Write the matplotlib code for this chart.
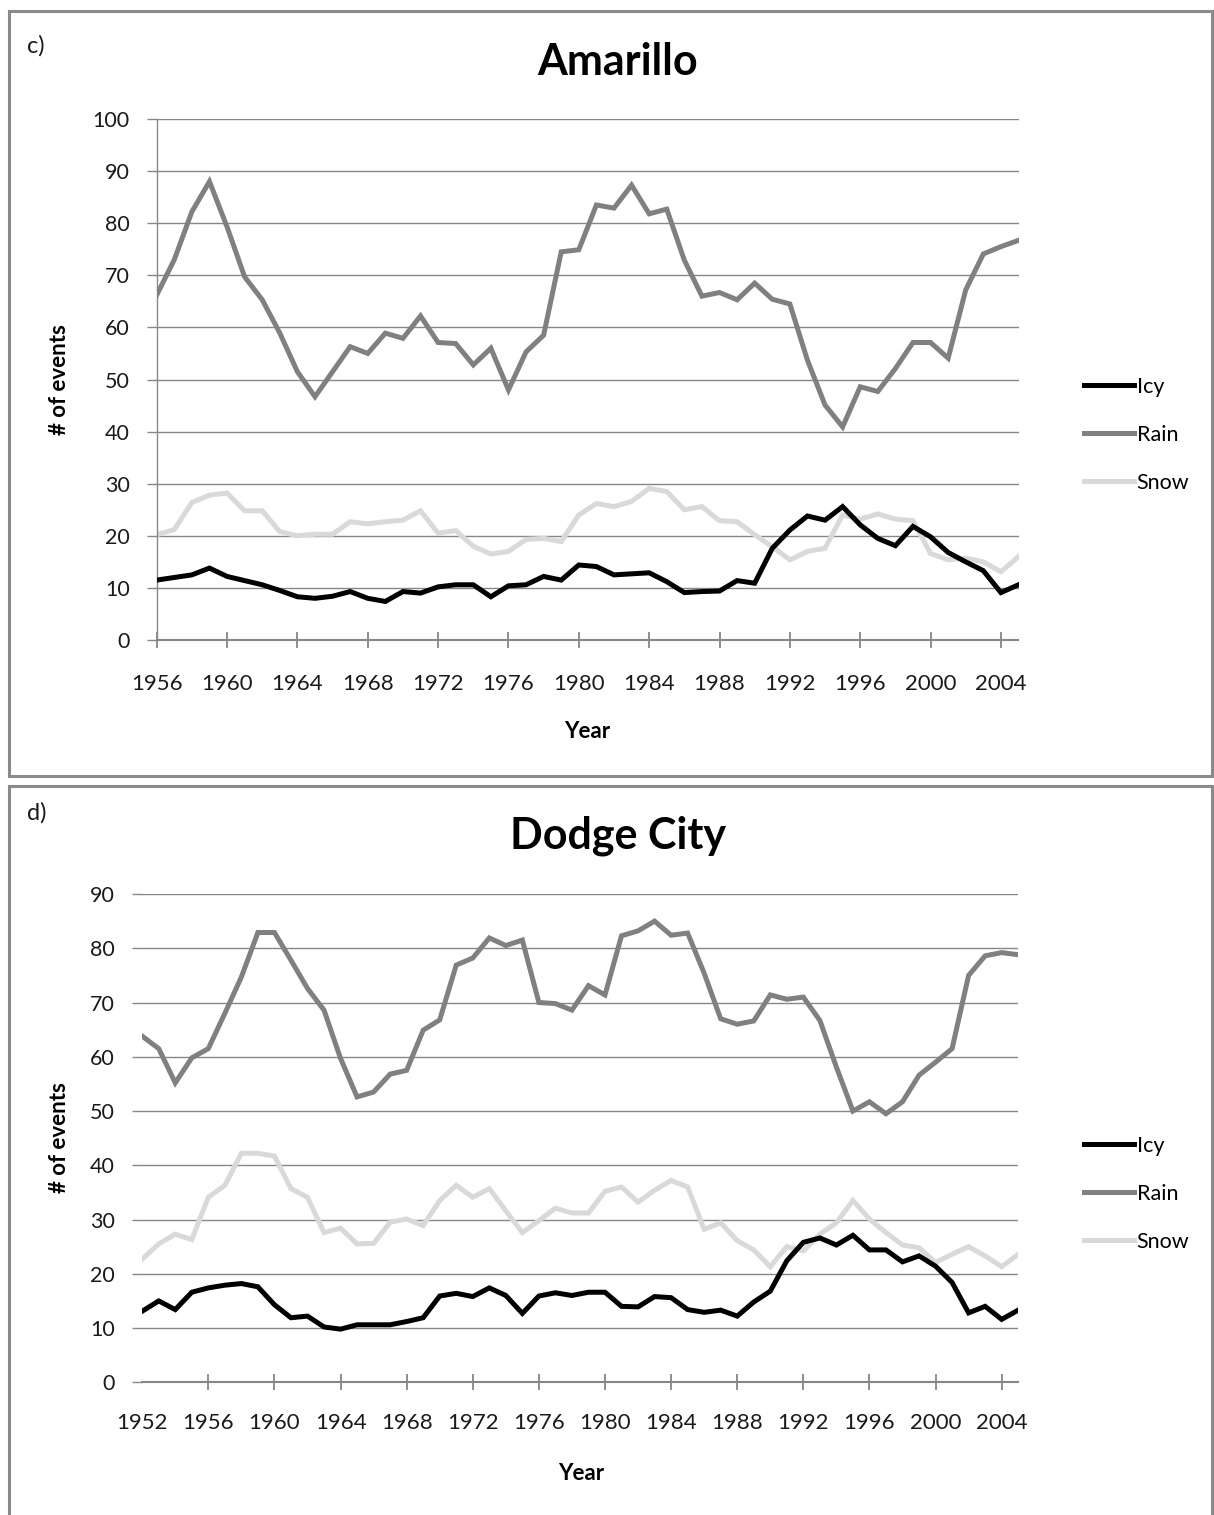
import matplotlib
matplotlib.use("Agg")
import matplotlib.pyplot as plt
from matplotlib.patches import Rectangle
from matplotlib.lines import Line2D

# ---------------- data ----------------
ama_years = list(range(1956, 2006))
ama_icy = [11.5, 12.0, 12.5, 13.8, 12.2, 11.4, 10.6, 9.5, 8.3, 8.0,
           8.4, 9.3, 8.0, 7.4, 9.3, 9.0, 10.2, 10.6, 10.6, 8.3,
           10.4, 10.6, 12.2, 11.5, 14.4, 14.1, 12.5, 12.7, 12.9, 11.2,
           9.1, 9.3, 9.4, 11.4, 10.9, 17.6, 21.1, 23.8, 23.0, 25.6,
           22.1, 19.5, 18.1, 21.8, 19.8, 16.8, 15.0, 13.3, 9.1, 10.6]
ama_rain = [66.2, 73.0, 82.2, 88.0, 79.3, 69.7, 65.3, 58.9, 51.5, 46.7,
            51.5, 56.3, 55.0, 58.9, 57.9, 62.2, 57.1, 56.9, 52.8, 56.0,
            48.0, 55.3, 58.5, 74.5, 74.9, 83.5, 82.9, 87.3, 81.8, 82.7,
            72.9, 66.0, 66.7, 65.3, 68.5, 65.4, 64.5, 53.7, 45.1, 40.9,
            48.6, 47.7, 52.1, 57.1, 57.1, 54.1, 67.2, 74.1, 75.5, 76.7]
ama_snow = [20.2, 21.2, 26.4, 27.8, 28.2, 24.8, 24.8, 20.8, 20.0, 20.3,
            20.3, 22.7, 22.3, 22.7, 23.0, 24.8, 20.5, 21.0, 18.0, 16.5,
            17.0, 19.3, 19.5, 18.9, 24.0, 26.2, 25.6, 26.6, 29.1, 28.5,
            25.0, 25.6, 22.9, 22.7, 20.2, 17.9, 15.4, 17.0, 17.6, 24.0,
            23.2, 24.2, 23.2, 22.9, 16.6, 15.4, 15.7, 15.0, 13.1, 16.0]

ddc_years = list(range(1952, 2006))
ddc_icy = [13.1, 15.0, 13.4, 16.6, 17.4, 17.9, 18.2, 17.6, 14.3, 11.9,
           12.2, 10.2, 9.8, 10.6, 10.6, 10.6, 11.2, 11.9, 15.9, 16.4,
           15.8, 17.4, 16.0, 12.7, 15.9, 16.5, 16.0, 16.6, 16.6, 14.0,
           13.9, 15.8, 15.6, 13.4, 12.9, 13.3, 12.2, 14.8, 16.8, 22.4,
           25.8, 26.6, 25.3, 27.1, 24.4, 24.4, 22.2, 23.3, 21.4, 18.4,
           12.8, 14.0, 11.6, 13.3]
ddc_rain = [63.8, 61.5, 55.2, 59.8, 61.5, 68.0, 74.7, 82.9, 82.9, 77.8,
            72.6, 68.6, 59.7, 52.6, 53.5, 56.8, 57.5, 64.9, 66.8, 76.9,
            78.2, 81.9, 80.5, 81.5, 70.0, 69.8, 68.6, 73.1, 71.4, 82.3,
            83.2, 85.0, 82.4, 82.8, 75.4, 67.0, 66.0, 66.6, 71.4, 70.6,
            71.0, 66.7, 58.1, 50.0, 51.7, 49.5, 51.7, 56.6, 59.0, 61.5,
            75.0, 78.6, 79.2, 78.8]
ddc_snow = [22.7, 25.5, 27.3, 26.3, 34.1, 36.3, 42.2, 42.2, 41.7, 35.7,
            34.1, 27.6, 28.4, 25.5, 25.6, 29.5, 30.1, 28.9, 33.5, 36.3,
            34.1, 35.7, 31.6, 27.6, 29.8, 32.1, 31.2, 31.2, 35.2, 36.0,
            33.2, 35.4, 37.2, 36.0, 28.2, 29.4, 26.1, 24.4, 21.3, 25.0,
            24.2, 27.3, 29.4, 33.5, 30.1, 27.6, 25.3, 24.8, 22.1, 23.6,
            25.0, 23.3, 21.3, 23.6]

series_names = ["Icy", "Rain", "Snow"]
series_colors = ["#000000", "#808080", "#D9D9D9"]

# ---------------- layout ----------------
W, H = 1214, 1515
FONT = ["Lato", "DejaVu Sans"]
plt.rcParams["font.family"] = FONT
fig = plt.figure(figsize=(W / 100, H / 100), dpi=100)
fig.patch.set_facecolor("white")


def fx(px):
    return px / W


def fy(py):
    return 1 - py / H


def frame(x0, y0, x1, y1):
    fig.patches.append(Rectangle((fx(x0), fy(y1)), fx(x1) - fx(x0), fy(y0) - fy(y1),
                                 transform=fig.transFigure, fill=False,
                                 edgecolor="#8A8A8A", linewidth=2.2, zorder=0))


frame(8.5, 10.5, 1212, 776)
frame(8.5, 785.5, 1212, 1530)

GRID = "#878787"


def panel(rect_px, years, data, xlim, ylim, ytick_step, xticks, show_left, letter, letter_xy,
          title, title_xy, ylab_xy, xlab_xy, legend_xy, xpad):
    l, t, r, b = rect_px
    ax = fig.add_axes([fx(l), fy(b), fx(r) - fx(l), fy(t) - fy(b)])
    for vals, name, col in zip(data, series_names, series_colors):
        ax.plot(years, vals, color=col, lw=3.6, label=name, solid_joinstyle="miter",
                zorder=3 if name != "Snow" else 2.5)
    ax.set_xlim(*xlim)
    ax.set_ylim(*ylim)
    ax.set_yticks(list(range(ylim[0], ylim[1] + 1, ytick_step)))
    ax.set_xticks(xticks)
    ax.set_xticklabels([str(x) for x in xticks])
    for yv in range(ylim[0] + ytick_step, ylim[1] + 1, ytick_step):
        ax.axhline(yv, color=GRID, lw=1.0, zorder=1)
    for s in ["top", "right"]:
        ax.spines[s].set_visible(False)
    ax.spines["bottom"].set_color(GRID)
    ax.spines["bottom"].set_linewidth(1.5)
    ax.spines["left"].set_color(GRID)
    ax.spines["left"].set_linewidth(1.0)
    ax.spines["left"].set_visible(show_left)
    ax.tick_params(axis="y", direction="out", length=7.5, width=1.0, color=GRID,
                   labelsize=15.5, pad=12, labelcolor="#1a1a1a")
    ax.tick_params(axis="x", direction="inout", length=11.5, width=1.3, color=GRID,
                   labelsize=16, pad=xpad, labelcolor="#1a1a1a")
    if not show_left:
        ax.xaxis.get_major_ticks()[0].tick1line.set_visible(False)
    ax.set_facecolor("none")
    fig.text(fx(letter_xy[0]), fy(letter_xy[1]), letter, fontsize=17, ha="left", va="center",
             color="#1a1a1a")
    fig.text(fx(title_xy[0]), fy(title_xy[1]), title, fontsize=31, fontweight="bold",
             ha="center", va="center", color="#000000")
    fig.text(fx(ylab_xy[0]), fy(ylab_xy[1]), "# of events", fontsize=16, fontweight="bold",
             rotation=90, ha="center", va="center", color="#000000")
    fig.text(fx(xlab_xy[0]), fy(xlab_xy[1]), "Year", fontsize=16, fontweight="bold",
             ha="center", va="center", color="#000000")
    handles = [Line2D([0], [0], color=c, lw=3.6) for c in series_colors]
    fig.legend(handles, series_names, loc="center left",
               bbox_to_anchor=(fx(legend_xy[0]), fy(legend_xy[1])),
               bbox_transform=fig.transFigure, frameon=False, fontsize=15.5,
               handlelength=2.3, handletextpad=0.15, labelspacing=1.3,
               borderpad=0, borderaxespad=0)
    return ax


panel((156.7, 119, 1018.5, 640), ama_years, [ama_icy, ama_rain, ama_snow],
      (1956, 2005), (0, 100), 10, list(range(1956, 2005, 4)), True,
      "c)", (27, 46), "Amarillo", (618, 62), (60, 380), (587, 732), (1084, 435), 19)

panel((142.2, 894, 1018.2, 1382.3), ddc_years, [ddc_icy, ddc_rain, ddc_snow],
      (1952, 2005), (0, 90), 10, list(range(1952, 2005, 4)), False,
      "d)", (27, 813), "Dodge City", (618, 836), (60, 1138), (581, 1474), (1084, 1194), 16)

fig.savefig("out.png", dpi=100, facecolor="white")
